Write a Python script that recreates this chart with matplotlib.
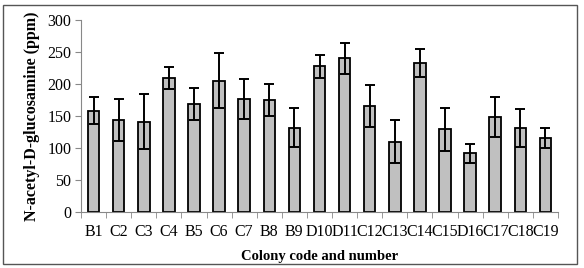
import numpy as np
import matplotlib.pyplot as plt
from matplotlib.patches import Rectangle
from matplotlib.ticker import FixedLocator

colonies = ['B1', 'C2', 'C3', 'C4', 'B5', 'C6', 'C7', 'B8', 'B9', 'D10',
            'D11', 'C12', 'C13', 'C14', 'C15', 'D16', 'C17', 'C18', 'C19']
glcnac = [158, 144, 141, 209, 168, 205, 177, 175, 132, 228,
          240, 166, 110, 233, 129, 92, 148, 131, 116]
err = [21, 33, 43, 17, 25, 43, 31, 25, 31, 18,
       24, 33, 34, 22, 33, 15, 31, 30, 16]

plt.rcParams['font.family'] = ['Liberation Serif', 'DejaVu Serif']

fig = plt.figure(figsize=(5.84, 2.68), dpi=100)
ax = fig.add_axes([81 / 584, 1 - 212 / 268, 477 / 584, 192 / 268])

x = np.arange(len(colonies))
ax.bar(x, glcnac, width=0.46, color='#c0c0c0', edgecolor='black', linewidth=1.3,
       yerr=err, error_kw=dict(ecolor='black', elinewidth=1.4, capsize=3.5, capthick=1.4))

ax.set_xlim(-0.5, len(colonies) - 0.5)
ax.set_ylim(0, 300)
ax.set_yticks(range(0, 301, 50))
ax.set_xticks(x)
ax.set_xticklabels(colonies)
ax.xaxis.set_minor_locator(FixedLocator(np.arange(-0.5, len(colonies), 1)))
ax.tick_params(axis='x', which='major', length=0, pad=9, labelsize=11.5)
ax.tick_params(axis='x', which='minor', length=4, color='#888888')
ax.tick_params(axis='y', length=4, color='#888888', labelsize=11.5, pad=3)

for s in ('top', 'right'):
    ax.spines[s].set_visible(False)
for s in ('left', 'bottom'):
    ax.spines[s].set_color('#888888')

ax.set_ylabel('N-acetyl-D-glucosamine (ppm)', fontweight='bold', fontsize=11.5, labelpad=5)
ax.set_xlabel('Colony code and number', fontweight='bold', fontsize=10.5, labelpad=7)

fig.patches.append(Rectangle((3 / 584, 4 / 268), 574 / 584, 259 / 268,
                             transform=fig.transFigure, fill=False,
                             edgecolor='#555555', linewidth=1))

fig.savefig('out.png', dpi=100)
